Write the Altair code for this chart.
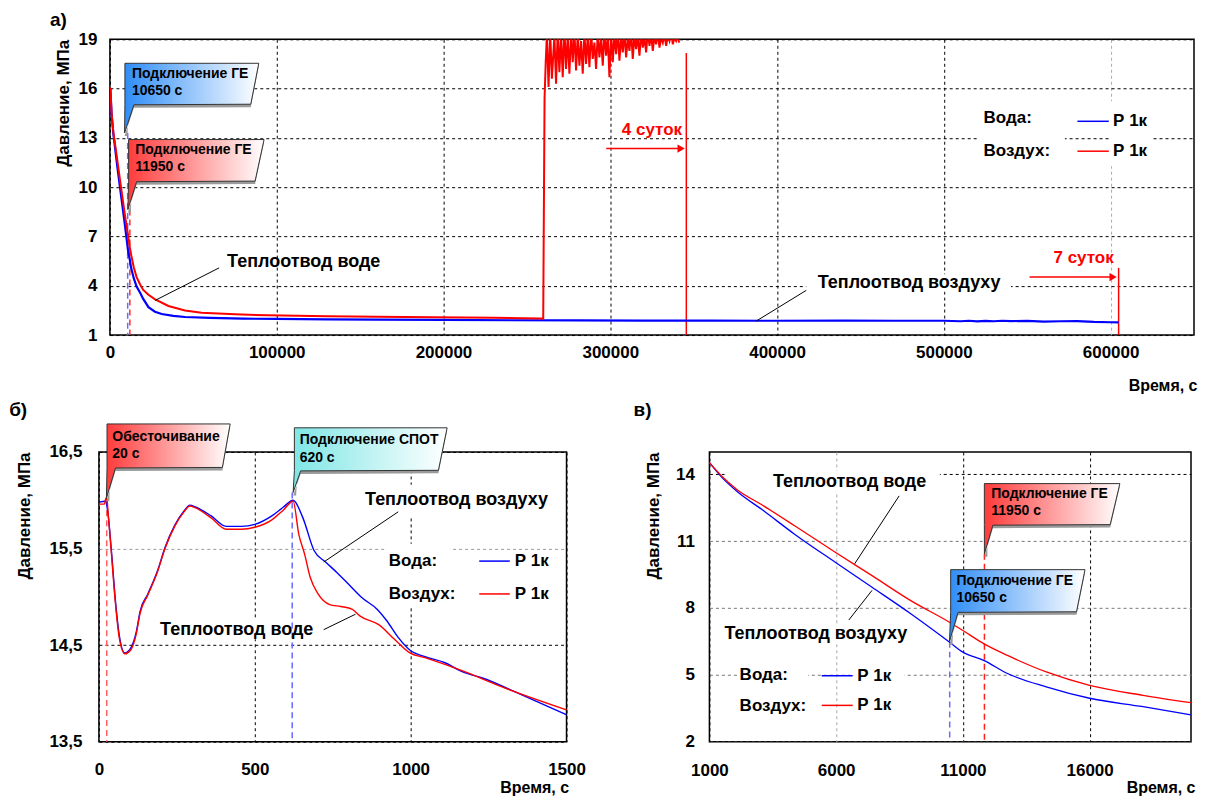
import altair as alt
import pandas as pd

FONT = "Liberation Sans"

# ---------------- Panel а) : full time range ----------------
a_water_t = [0, 300, 1000, 2070, 3140, 4360, 5965, 7416, 8944, 10470,
             11000, 11820, 12760, 14290, 16000, 18110, 19970, 23100, 27000, 31100,
             38000, 45000, 60000, 80000, 100000, 130000, 160000, 200000, 240000, 280000,
             320000, 360000, 400000, 440000, 470000, 500000, 510000, 515000, 520000, 525000,
             530000, 535000, 540000, 550000, 560000, 570000, 580000, 590000, 600000, 604800]
a_water_p = [15.98, 15.95, 14.45, 13.25, 12.36, 11.31, 10.05, 8.93, 7.74, 6.47,
             6.02, 5.65, 5.06, 4.46, 3.95, 3.57, 3.20, 2.70, 2.42, 2.28,
             2.17, 2.10, 2.04, 2.00, 1.98, 1.96, 1.94, 1.92, 1.90, 1.89,
             1.88, 1.88, 1.87, 1.88, 1.87, 1.87, 1.84, 1.87, 1.83, 1.86,
             1.84, 1.87, 1.85, 1.86, 1.82, 1.84, 1.85, 1.80, 1.78, 1.77]

a_air_t = [0, 300, 1000, 2070, 3140, 4360, 5965, 7416, 8944, 10470,
           11000, 11820, 12760, 14290, 16000, 18110, 19970, 23100, 27100, 35100,
           45000, 55000, 75000, 94800, 130000, 160000, 194300, 230000, 258200, 259800,
           260600, 261300,
           262000, 263000, 264000, 265000, 266500, 267500, 268500, 269500, 270500, 271500,
           272500, 273500, 274500, 275500, 276500, 277500, 278500, 279500, 280500, 281500,
           282500, 283500, 284500, 285500, 286500, 287500, 288500, 289500, 290500, 291500,
           292500, 293500, 294500, 295500, 296500, 297500, 298500, 299500, 300500, 301500,
           302500, 303500, 304500, 305500, 306500, 307500, 308500, 309500, 310500, 311500,
           312500, 313500, 314500, 315500, 316500, 317500, 318500, 319500, 320500, 321500,
           322500, 323500, 324500, 325500, 326500, 327500, 328500, 329500, 330500, 331500,
           332500, 333500, 334500, 335500, 336500, 337500, 338500, 339500, 340500, 341300]
a_air_p = [16.05, 16.0, 14.5, 13.33, 12.58, 11.69, 10.5, 9.45, 8.33, 7.36,
           6.99, 6.4, 5.87, 5.13, 4.53, 4.08, 3.75, 3.45, 3.17, 2.77,
           2.5, 2.36, 2.26, 2.2, 2.15, 2.12, 2.09, 2.06, 2.01, 2.0,
           15.4, 17.6,
           19.3, 16.1, 19.4, 16.6, 19.2, 16.3, 19.5, 17.0, 19.3, 16.7,
           19.6, 17.2, 19.2, 16.9, 19.4, 17.6, 19.5, 17.1, 19.3, 17.4,
           18.9, 16.9, 19.4, 17.5, 19.2, 17.3, 19.5, 17.8, 18.8, 17.2,
           19.4, 17.9, 19.1, 17.4, 19.5, 18.0, 19.2, 16.7, 19.4, 17.6,
           19.3, 18.1, 19.5, 17.7, 19.2, 18.2, 19.4, 17.9, 19.1, 18.3,
           19.5, 17.8, 19.3, 18.4, 19.2, 18.0, 19.4, 18.5, 19.1, 18.2,
           19.5, 18.6, 19.3, 18.3, 19.2, 18.7, 19.4, 18.5, 19.1, 18.8,
           19.3, 18.6, 19.2, 18.9, 19.4, 18.7, 19.1, 18.9, 19.2, 18.8]
a_x_ticks = [0, 100000, 200000, 300000, 400000, 500000, 600000]
a_y_ticks = [1, 4, 7, 10, 13, 16, 19]

# ---------------- Panel б) : first 1500 s ----------------
b_water_t = [0, 22, 28, 40, 53, 65, 83, 102, 120, 132,
             157, 188, 212, 243, 273, 292, 310, 359, 408, 457,
             500, 556, 592, 623, 654, 690, 727, 764, 801, 844,
             893, 924, 960, 997, 1046, 1108, 1169, 1230, 1353, 1500]
b_water_p = [15.98, 15.99, 15.89, 15.48, 14.96, 14.61, 14.42, 14.47, 14.64, 14.85,
             15.03, 15.27, 15.51, 15.74, 15.89, 15.95, 15.93, 15.84, 15.73, 15.73,
             15.75, 15.84, 15.93, 16.0, 15.82, 15.48, 15.36, 15.25, 15.13, 14.99,
             14.87, 14.75, 14.58, 14.45, 14.38, 14.32, 14.22, 14.16, 13.99, 13.78]
b_air_t = [0, 18, 22, 26, 30, 40, 53, 65, 83, 102,
           120, 132, 157, 188, 212, 243, 273, 292, 310, 359,
           408, 457, 500, 556, 592, 623, 641, 660, 678, 703,
           740, 776, 813, 838, 899, 948, 997, 1046, 1169, 1291, 1500]
b_air_p = [15.96, 15.96, 16.02, 16.0, 15.85, 15.45, 14.93, 14.58, 14.41, 14.45,
           14.62, 14.83, 15.02, 15.26, 15.50, 15.73, 15.88, 15.94, 15.92, 15.82,
           15.70, 15.70, 15.72, 15.80, 15.90, 15.99, 15.65, 15.44, 15.20, 15.03,
           14.92, 14.90, 14.87, 14.80, 14.71, 14.56, 14.42, 14.37, 14.23, 14.07, 13.83]
b_x_ticks = [0, 500, 1000, 1500]
b_y_ticks = [13.5, 14.5, 15.5, 16.5]

# ---------------- Panel в) : 1000 - 20000 s ----------------
c_water_t = [1000, 1500, 2070, 3140, 4360, 5965, 7416, 8944, 10470, 11000,
             11820, 12760, 14290, 16000, 18110, 20000]
c_water_p = [14.52, 13.85, 13.25, 12.36, 11.31, 10.05, 8.93, 7.74, 6.47, 6.02,
             5.65, 5.06, 4.46, 3.95, 3.57, 3.20]
c_air_t = [1000, 1500, 2070, 3140, 4360, 5965, 7416, 8944, 10470, 11000,
           11820, 12760, 14290, 16000, 18110, 20000]
c_air_p = [14.52, 13.90, 13.33, 12.58, 11.69, 10.50, 9.45, 8.33, 7.36, 6.99,
           6.40, 5.87, 5.13, 4.53, 4.08, 3.75]
c_x_ticks = [1000, 6000, 11000, 16000]
c_y_ticks = [2, 5, 8, 11, 14]

series_names = ["Вода:", "Воздух:"]
series_label = "Р 1к"
BLUE = "#0000ff"
RED = "#ff0000"


def grid_color(test, special, normal):
    return {"condition": {"test": test, "value": special}, "value": normal}


def x_axis(values, title_x, title_y, lab_pad, gcolor, fmt="d"):
    return alt.Axis(values=values, format=fmt, title="Время, с", titleFont=FONT,
                    titleFontSize=16, titleFontWeight="bold", titleColor="black",
                    titleAnchor="end", titleAlign="right", titleBaseline="middle",
                    titleX=title_x, titleY=title_y, labelFont=FONT, labelFontSize=17,
                    labelFontWeight="bold", labelColor="black", labelPadding=lab_pad,
                    labelFlush=False, labelOverlap=False, ticks=False, domain=False,
                    grid=True, gridDash=[3, 3], gridWidth=1, gridColor=gcolor)


def y_axis(values, title_x, lab_pad, gcolor, expr=None):
    kw = dict(values=values, title="Давление, МПа", titleFont=FONT, titleFontSize=17,
              titleFontWeight="bold", titleColor="black", titleAnchor="end",
              titleBaseline="middle", titleX=title_x, labelFont=FONT, labelFontSize=17,
              labelFontWeight="bold", labelColor="black", labelPadding=lab_pad,
              labelFlush=False, labelOverlap=False, ticks=False, domain=False,
              grid=True, gridDash=[3, 3], gridWidth=1, gridColor=gcolor)
    if expr:
        kw["labelExpr"] = expr
    return alt.Axis(**kw)


class Panel:
    def __init__(self, xdom, ydom, xaxis, yaxis):
        self.xs = alt.Scale(domain=xdom, nice=False, zero=False)
        self.ys = alt.Scale(domain=ydom, nice=False, zero=False)
        self.yr = ydom[1] - ydom[0]
        self.xaxis = xaxis
        self.yaxis = yaxis
        self.layers = []

    def X(self, f):
        return alt.X(f"{f}:Q", scale=self.xs, axis=self.xaxis)

    def Y(self, f):
        return alt.Y(f"{f}:Q", scale=self.ys, axis=self.yaxis)

    def line(self, t, p, color, w, clip=False, interp="linear"):
        df = pd.DataFrame({"x": t, "y": p})
        self.layers.append(alt.Chart(df).mark_line(color=color, strokeWidth=w, clip=clip,
                                                   interpolate=interp)
                           .encode(x=self.X("x"), y=self.Y("y")))

    def rule(self, x1, x2, y1, y2, color, w=1, dash=None):
        df = pd.DataFrame({"x": [x1], "x2": [x2], "y": [y1], "y2": [y2]})
        kw = {"color": color, "strokeWidth": w}
        if dash:
            kw["strokeDash"] = dash
        self.layers.append(alt.Chart(df).mark_rule(**kw)
                           .encode(x=self.X("x"), x2=alt.X2("x2"), y=self.Y("y"), y2=alt.Y2("y2")))

    def box(self, x1, x2, y1, y2, color="white"):
        df = pd.DataFrame({"x": [x1], "x2": [x2], "y": [y1], "y2": [y2]})
        self.layers.append(alt.Chart(df).mark_rect(color=color)
                           .encode(x=self.X("x"), x2=alt.X2("x2"), y=self.Y("y"), y2=alt.Y2("y2")))

    def text(self, xs, ys, labels, size, color="black", align="left"):
        df = pd.DataFrame({"x": xs, "y": ys, "s": labels})
        self.layers.append(alt.Chart(df).mark_text(align=align, baseline="middle", font=FONT,
                                                   fontSize=size, fontWeight="bold", color=color)
                           .encode(x=self.X("x"), y=self.Y("y"), text="s:N"))

    def head(self, x, y, color):
        df = pd.DataFrame({"x": [x], "y": [y]})
        self.layers.append(alt.Chart(df).mark_point(shape="triangle-right", filled=True, size=70,
                                                    color=color, opacity=1)
                           .encode(x=self.X("x"), y=self.Y("y")))

    def callout(self, L, Rt, Rb, top, bot, tw, px, py, c0, c1):
        eps = self.yr * 0.002
        df = pd.DataFrame({"yy": [py, bot - eps, bot, top],
                           "xa": [px, L, L, L],
                           "xb": [px, tw, Rb, Rt]})
        grad = alt.LinearGradient(gradient="linear",
                                  stops=[alt.GradientStop(color=c0, offset=0),
                                         alt.GradientStop(color=c1, offset=1)],
                                  x1=0, x2=1, y1=0, y2=0)
        self.layers.append(alt.Chart(df).mark_area(orient="horizontal", color="#9a9a9a",
                                                   xOffset=3, yOffset=3)
                           .encode(y=self.Y("yy"), x=self.X("xa"), x2=alt.X2("xb")))
        self.layers.append(alt.Chart(df).mark_area(orient="horizontal", color=grad,
                                                   stroke="#333333", strokeWidth=1)
                           .encode(y=self.Y("yy"), x=self.X("xa"), x2=alt.X2("xb")))

    def chart(self, w, h):
        return alt.layer(*self.layers).properties(width=w, height=h)


# ================= Panel а) =================
A = Panel([0, 650000], [1, 19],
          x_axis(a_x_ticks, 1088, 50, 9, grid_color("datum.value == 600000", "#aaaaaa", "black")),
          y_axis(a_y_ticks, -46, 13, "black"))
A.box(417500, 540300, 3.65, 4.7)
A.box(519900, 572600, 11.28, 15.23)
A.box(600200, 624200, 11.28, 15.23)
A.rule(10650, 10650, 13.3, 1, "#6a6aff", 1.5, [6, 4])
A.rule(11950, 11950, 8.64, 1, "#ff3030", 1.5, [6, 4])
A.rule(345600, 345600, 1, 18.17, RED, 1.5)
A.rule(604800, 604800, 1, 5.09, RED, 1.5)
A.line(a_water_t, a_water_p, BLUE, 2.2)
A.line(a_air_t, a_air_p, RED, 2.0, clip=True)
A.callout(8985, 89250, 84460, 17.54, 15.05, 14380, 8800, 13.3, "#2f8df7", "#ffffff")
A.text([13180, 13180], [16.91, 15.88], ["Подключение ГЕ", "10650 с"], 14)
A.callout(11200, 92430, 87040, 12.9, 10.37, 16000, 10780, 8.64, "#ff3b3b", "#ffffff")
A.text([15160, 15160], [12.25, 11.22], ["Подключение ГЕ", "11950 с"], 14)
A.rule(65500, 27150, 5.09, 3.11, "black", 1)
A.rule(417500, 387500, 3.72, 1.85, "black", 1)
A.text([116200], [5.46], ["Теплоотвод воде"], 18, align="center")
A.text([479200], [4.16], ["Теплоотвод воздуху"], 18, align="center")
A.rule(297600, 342000, 12.35, 12.35, RED, 1.5)
A.head(342500, 12.35, RED)
A.text([325000], [13.51], ["4 суток"], 17, color=RED, align="center")
A.rule(551400, 601000, 4.53, 4.53, RED, 1.5)
A.head(601500, 4.53, RED)
A.text([583800], [5.7], ["7 суток"], 17, color=RED, align="center")
A.rule(580100, 598900, 14.01, 14.01, BLUE, 1.5)
A.rule(580100, 598900, 12.19, 12.19, RED, 1.5)
A.text([523800, 523800], [14.2, 12.19], series_names, 17)
A.text([601500, 601500], [14.05, 12.19], [series_label, series_label], 17)
A.text([-35940], [20.16], ["а)"], 19)
chart_a = A.chart(1085, 296)

# ================= Panel б) =================
B = Panel([0, 1500], [13.5, 16.5],
          x_axis(b_x_ticks, 470, 46, 20, "black"),
          y_axis(b_y_ticks, -74, 17, grid_color("datum.value == 15.5", "#999999", "black"),
                 expr="replace(format(datum.value, '.1f'), '.', ',')"))
B.box(855, 1440, 15.83, 16.16)
B.box(300, 590, 14.56, 14.77)
B.box(923, 1126, 14.9, 15.55)
B.rule(25, 25, 16.0, 13.5, "#ff6060", 1.5, [6, 4])
B.rule(620, 620, 16.08, 13.5, "#6a6aff", 1.5, [6, 4])
B.line(b_water_t, b_water_p, BLUE, 1.4, interp="monotone")
B.line(b_air_t, b_air_p, RED, 1.4, interp="monotone")
B.callout(26, 421, 396, 16.79, 16.34, 53, 24, 16.02, "#ff3b3b", "#ffffff")
B.text([43, 43], [16.66, 16.48], ["Обесточивание", "20 с"], 14)
B.callout(627, 1117, 1089, 16.75, 16.31, 647, 623, 16.08, "#7fe6e6", "#ffffff")
B.text([644, 644], [16.62, 16.44], ["Подключение СПОТ", "620 с"], 14)
B.rule(960, 721, 15.88, 15.36, "black", 1)
B.rule(721, 823, 14.66, 14.82, "black", 1)
B.text([1147], [16.0], ["Теплоотвод воздуху"], 18, align="center")
B.text([442], [14.66], ["Теплоотвод воде"], 18, align="center")
B.rule(1220, 1318, 15.37, 15.37, BLUE, 1.5)
B.rule(1220, 1318, 15.03, 15.03, RED, 1.5)
B.text([930, 930], [15.37, 15.03], series_names, 17)
B.text([1334, 1334], [15.37, 15.03], [series_label, series_label], 17)
B.text([-288], [16.93], ["б)"], 19)
chart_b = B.chart(468, 290)

# ================= Panel в) =================
C = Panel([1000, 20000], [2, 15],
          x_axis(c_x_ticks, 486, 46, 21, grid_color("datum.value == 6000", "#aaaaaa", "black")),
          y_axis(c_y_ticks, -56, 15, grid_color("datum.value == 14", "black", "#777777")))
C.box(1600, 10090, 13.2, 14.15)
C.box(1400, 9000, 6.45, 7.2)
C.box(2100, 4896, 3.2, 5.35)
C.box(6700, 8700, 3.2, 5.35)
C.rule(11850, 11850, 10.43, 2, "#ff2020", 1.5, [6, 4])
C.rule(10480, 10480, 6.49, 2, "#6a6aff", 1.5, [6, 4])
C.line(c_water_t, c_water_p, BLUE, 1.3, interp="monotone")
C.line(c_air_t, c_air_p, RED, 1.3, interp="monotone")
C.callout(11847, 17193, 16812, 13.58, 11.74, 12183, 11850, 10.43, "#ff3b3b", "#ffffff")
C.text([12122, 12122], [13.11, 12.33], ["Подключение ГЕ", "11950 с"], 14)
C.callout(10518, 15818, 15483, 9.72, 7.83, 10808, 10472, 6.49, "#2f8df7", "#ffffff")
C.text([10747, 10747], [9.21, 8.47], ["Подключение ГЕ", "10650 с"], 14)
C.rule(8486, 6729, 13.03, 9.98, "black", 1)
C.rule(6500, 7416, 7.46, 8.79, "black", 1)
C.text([6530], [13.63], ["Теплоотвод воде"], 18, align="center")
C.text([5200], [6.83], ["Теплоотвод воздуху"], 18, align="center")
C.rule(5430, 6652, 4.96, 4.96, BLUE, 1.5)
C.rule(5430, 6652, 3.63, 3.63, RED, 1.5)
C.text([2192, 2192], [5.0, 3.59], series_names, 17)
C.text([6836, 6836], [4.96, 3.63], [series_label, series_label], 17)
C.text([-1996], [16.88], ["в)"], 19)
chart_c = C.chart(482, 290)

spacer = (alt.Chart(pd.DataFrame({"v": [0]})).mark_point(opacity=0, size=1)
          .encode(x=alt.value(0), y=alt.value(0))
          .properties(width=1, height=296, view=alt.ViewBackground(strokeOpacity=0)))

top_row = alt.hconcat(spacer, chart_a, spacing=10, bounds="flush")
bottom_row = alt.hconcat(chart_b, chart_c, spacing=143, bounds="flush")

chart = (alt.vconcat(top_row, bottom_row, spacing=6)
         .properties(padding={"left": 0, "top": 2, "right": 0, "bottom": 0})
         .configure(font=FONT)
         .configure_view(stroke="black", strokeWidth=1.5))

chart.save("out.html", embed_options={"renderer": "svg", "actions": False})
